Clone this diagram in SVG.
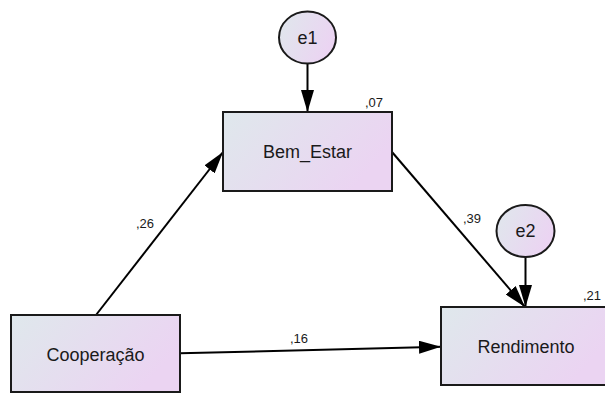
<svg xmlns="http://www.w3.org/2000/svg" width="605" height="394" viewBox="0 0 605 394">
<defs>
<linearGradient id="g" x1="0" y1="0" x2="1" y2="0.4">
<stop offset="0" stop-color="#dfe8ec"/>
<stop offset="1" stop-color="#ebd4f2"/>
</linearGradient>
<marker id="ah" markerUnits="userSpaceOnUse" markerWidth="22" markerHeight="13" refX="22" refY="6.5" orient="auto">
<path d="M0,0 L22,6.5 L0,13 z" fill="#000"/>
</marker>
<style>
.box{fill:url(#g);stroke:#1a1a1a;stroke-width:2}
.lbl{font-family:"Liberation Sans",Arial,sans-serif;font-size:18px;fill:#1a1a1a;text-anchor:middle}
.num{font-family:"Liberation Sans",Arial,sans-serif;font-size:13px;fill:#1a1a1a}
.edge{stroke:#000;stroke-width:2;fill:none;marker-end:url(#ah)}
</style>
</defs>
<rect width="605" height="394" fill="#fff"/>
<g id="connectors">
<line class="edge" x1="307.5" y1="63.5" x2="307.5" y2="112"/>
<line class="edge" x1="96" y1="315" x2="223" y2="152"/>
<line class="edge" x1="392" y1="152" x2="525" y2="307"/>
<line class="edge" x1="525.5" y1="257" x2="525.5" y2="307"/>
<line class="edge" x1="180" y1="353.3" x2="441" y2="346.7"/>
<text class="num" x="136" y="228">,26</text>
<text class="num" x="463" y="223">,39</text>
<text class="num" x="290" y="342.5">,16</text>
</g>
<g id="e1">
<ellipse class="box" cx="307.5" cy="37.5" rx="28.5" ry="26"/>
<text class="lbl" x="307.5" y="43.5">e1</text>
</g>
<g id="e2">
<ellipse class="box" cx="525.5" cy="231" rx="29" ry="26"/>
<text class="lbl" x="525.5" y="237">e2</text>
</g>
<g id="bem_estar">
<rect class="box" x="223" y="112" width="169" height="79"/>
<text class="lbl" x="307.5" y="158">Bem_Estar</text>
<text class="num" x="365" y="107">,07</text>
</g>
<g id="cooperacao">
<rect class="box" x="11" y="315" width="169" height="77"/>
<text class="lbl" x="95.5" y="361">Cooperação</text>
</g>
<g id="rendimento">
<rect class="box" x="441" y="307" width="170" height="78"/>
<text class="lbl" x="526" y="353">Rendimento</text>
<text class="num" x="583" y="300">,21</text>
</g>
</svg>
